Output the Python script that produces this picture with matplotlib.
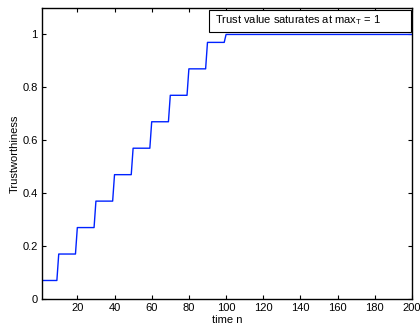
import numpy as np
import matplotlib
matplotlib.use("Agg")
import matplotlib.pyplot as plt
from matplotlib.patches import Rectangle

plt.rcParams['font.family'] = ['Liberation Sans', 'DejaVu Sans']

# trust level held from each step start onwards
step_start = [1, 10, 20, 30, 40, 50, 60, 70, 80, 90, 100]
step_level = [0.07, 0.17, 0.27, 0.37, 0.47, 0.57, 0.67, 0.77, 0.87, 0.97, 1.0]
n_end = 200

xs, ys = [], []
for i, (s, v) in enumerate(zip(step_start, step_level)):
    e = step_start[i + 1] - 1 if i + 1 < len(step_start) else n_end
    xs += [s, e]
    ys += [v, v]

fig = plt.figure(figsize=(4.2, 3.27), dpi=100)
ax = fig.add_axes([42 / 420, 1 - 299 / 327, 370 / 420, 291 / 327])
ax.plot(xs, ys, color="#0022ff", lw=1.0)

ax.set_xlim(1, 200)
ax.set_ylim(0, 1.1)
ax.set_xticks(np.arange(20, 201, 20))
ax.set_yticks([0, 0.2, 0.4, 0.6, 0.8, 1])
ax.set_yticklabels(["0", "0.2", "0.4", "0.6", "0.8", "1"])
ax.tick_params(direction="in", top=True, right=True, labelsize=8, length=3, width=0.8, pad=3)
for sp in ax.spines.values():
    sp.set_linewidth(1.0)

ax.set_xlabel("time n", fontsize=8, labelpad=1)
ax.set_ylabel("Trustworthiness", fontsize=8, labelpad=2)

# legend-style note box
ax.add_patch(Rectangle((0.452, 0.918), 0.545, 0.075, transform=ax.transAxes,
                       facecolor="white", edgecolor="black", lw=0.8, zorder=3))
ax.text(0.468, 0.958, r"Trust value saturates at max$_{\mathregular{T}}$ = 1",
        transform=ax.transAxes, fontsize=8, va="center", ha="left", zorder=4)

fig.savefig("out.png", dpi=100)
